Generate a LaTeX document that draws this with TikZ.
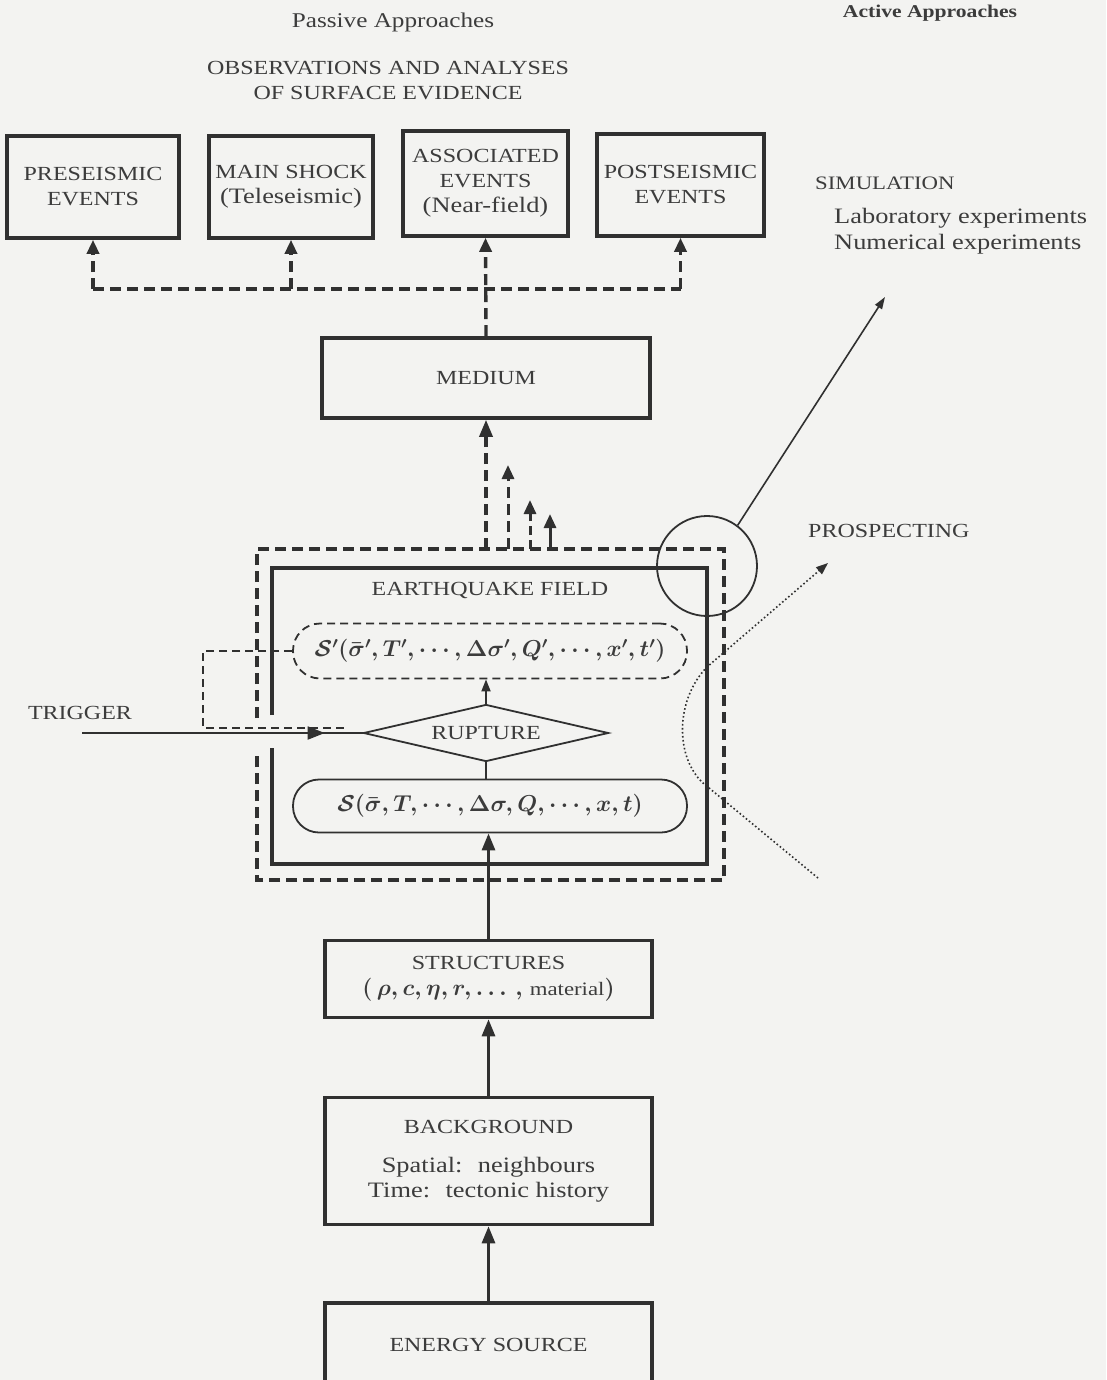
\RequirePackage{fix-cm}
\documentclass[tikz,border=0pt]{standalone}
\usepackage{fontspec}
\setmainfont[FakeStretch=1.2]{Liberation Serif}
\usetikzlibrary{arrows.meta,shapes.geometric,decorations.markings}
\definecolor{paper}{HTML}{F3F3F1}
\definecolor{ink}{HTML}{303030}
\definecolor{txt}{HTML}{3C3C3C}
\newcommand\capf{\fontsize{20}{25}\selectfont}
\newcommand\lowf{\fontsize{22}{26}\selectfont}
\newcommand\mathf{\fontsize{23}{28}\selectfont\boldmath}
\begin{document}
\begin{tikzpicture}[x=1pt,y=-1pt,
  box/.style={draw=ink,line width=3.6pt,rectangle,inner sep=0pt,align=center,font=\capf,text=txt},
  plain/.style={inner sep=0pt,align=center,text=txt},
  thickline/.style={draw=ink,line width=3pt},
  thickdash/.style={draw=ink,line width=3.4pt,dash pattern=on 11pt off 6pt},
  thinline/.style={draw=ink,line width=1.8pt},
  thindash/.style={draw=ink,line width=1.8pt,dash pattern=on 8pt off 5pt},
  dotline/.style={draw=ink,line width=1.6pt,dash pattern=on 1.6pt off 2.4pt},
  bighead/.style={-{Triangle[length=17pt,width=13pt]}},
  smallhead/.style={-{Triangle[length=14pt,width=12pt]}}
]
\useasboundingbox (0,0) rectangle (1106,1380);
\fill[paper] (0,0) rectangle (1106,1380);

% headings
\node[plain,font=\fontsize{21}{25}\selectfont] (passive) at (393,22) {Passive Approaches};
\node[plain,font=\fontsize{18}{22}\selectfont\bfseries] (active) at (930,13) {Active Approaches};
\node[plain,font=\capf,align=center] (obs) at (388,81) {OBSERVATIONS AND ANALYSES\\OF SURFACE EVIDENCE};

% top boxes
\node[box,minimum width=172pt,minimum height=102pt] (pre) at (93,187) {PRESEISMIC\\EVENTS};
\node[box,minimum width=164pt,minimum height=102pt] (mainsh) at (291,187) {MAIN SHOCK\\{\lowf(Teleseismic)}};
\node[box,minimum width=165pt,minimum height=105pt] (assoc) at (485.5,183.5) {ASSOCIATED\\EVENTS\\{\lowf(Near-field)}};
\node[box,minimum width=167pt,minimum height=102pt] (post) at (680.5,185) {POSTSEISMIC\\EVENTS};

% simulation text
\node[plain,font=\fontsize{19}{23}\selectfont,anchor=west] (sim) at (815,183) {SIMULATION};
\node[plain,font=\lowf,anchor=west,align=left] (exps) at (834,231) {Laboratory experiments\\Numerical experiments};

% medium
\node[box,minimum width=328pt,minimum height=80pt] (medium) at (486,378) {MEDIUM};

% dashed distribution to top boxes
\coordinate (jl) at (93,289);
\coordinate (jr) at (680.5,289);
\draw[thickdash] (jl) -- (jr);
\draw[thickdash,smallhead] (jl) -- (pre.south);
\draw[thickdash,smallhead] (mainsh.south|-jl) -- (mainsh.south);
\draw[thickdash,smallhead] (jr) -- (post.south);
\draw[thickdash,smallhead] (medium.north) -- (assoc.south);

% outer dashed box and inner solid box
\coordinate (obtl) at (257,549);
\coordinate (obbr) at (724,880);
\draw[thickdash,line join=miter] (257,718) -- (obtl) -- (obbr|-obtl) -- (obbr) -- (obtl|-obbr) -- (257,750);
\draw[thickline,line width=3.6pt,line join=miter] (272,715) -- (272,568) -- (707,568) -- (707,864) -- (272,864) -- (272,748);

% arrows from the field up to medium
\draw[thickdash,bighead] (medium.south|-obtl) -- (medium.south);
\coordinate (a1s) at (508,549); \coordinate (a1e) at (508,465);
\coordinate (a2s) at (530,549); \coordinate (a2e) at (530,500);
\coordinate (a3s) at (550,549); \coordinate (a3e) at (550,514);
\draw[thickdash,line width=3pt,smallhead] (a1s) -- (a1e);
\draw[thickdash,line width=3pt,dash pattern=on 9pt off 5pt,smallhead] (a2s) -- (a2e);
\draw[thickline,smallhead] (a3s) -- (a3e);

% earthquake field contents
\node[plain,font=\capf] (eqf) at (490,590) {EARTHQUAKE FIELD};
\node[thindash,rectangle,rounded corners=27pt,minimum width=394pt,minimum height=55pt,inner sep=0pt,text=txt,font=\mathf] (Sp) at (490,651)
  {$\mathcal{S}'(\bar{\sigma}', T', \cdots, \Delta\sigma', Q', \cdots, x', t')$};
\node[thinline,diamond,shape aspect=4.3,minimum width=245pt,minimum height=57pt,inner sep=0pt,text=txt,font=\capf] (rup) at (486,733) {RUPTURE};
\node[thinline,rectangle,rounded corners=26pt,minimum width=394pt,minimum height=53pt,inner sep=0pt,text=txt,font=\mathf] (S) at (490,806)
  {$\mathcal{S}(\bar{\sigma}, T, \cdots, \Delta\sigma, Q, \cdots, x, t)$};
\draw[thinline,-{Triangle[length=12pt,width=9pt]}] (rup.north) -- (rup.north|-Sp.south);
\draw[thinline] (rup.south|-S.north) -- (rup.south);

% trigger
\node[plain,font=\capf] (trig) at (80,713) {TRIGGER};
\coordinate (trigstart) at (82,733);
\draw[thinline,postaction={decorate},decoration={markings,mark=at position 0.865 with {\arrow{Triangle[length=17pt,width=13pt]}}}] (trigstart) -- (rup.west);
\coordinate (fbend) at (347,728);
\draw[thindash] (Sp.west) -- ++(-89,0) |- (fbend);

% lower chain
\node[box,minimum width=327pt,minimum height=77pt] (struct) at (488.5,979) {STRUCTURES\\[1pt]{\fontsize{23}{26}\selectfont\boldmath$(\,\rho, c, \eta, r, \ldots\,,$ {\unboldmath\fontsize{19}{22}\selectfont\mdseries material}$)$}};
\node[box,minimum width=327pt,minimum height=127pt] (back) at (488.5,1161) {BACKGROUND\\[14pt]{\lowf Spatial:~ neighbours}\\{\lowf Time:~ tectonic history}};
\node[box,minimum width=327pt,minimum height=84pt] (energy) at (488.5,1345) {ENERGY SOURCE};

\draw[thickline,bighead] (struct.north) -- (struct.north|-S.south);
\draw[thickline,bighead] (back.north) -- (struct.south);
\draw[thickline,bighead] (energy.north) -- (back.south);

% active approaches
\node[thinline,circle,minimum size=100pt,inner sep=0pt] (circ) at (707,566) {};
\coordinate (simtip) at (885,297);
\draw[thinline,line width=1.6pt,-{Triangle[length=12pt,width=8pt]}] (circ.53) -- (simtip);
\node[plain,font=\capf,anchor=west] (prosp) at (808,531) {PROSPECTING};
\coordinate (dstart) at (818,878);
\coordinate (dtip) at (828,563);
\draw[dotline,-{Triangle[length=12pt,width=9pt]}] (dstart) -- (703,783) .. controls (675,757) and (675,700) .. (707,667) -- (dtip);
\end{tikzpicture}
\end{document}
